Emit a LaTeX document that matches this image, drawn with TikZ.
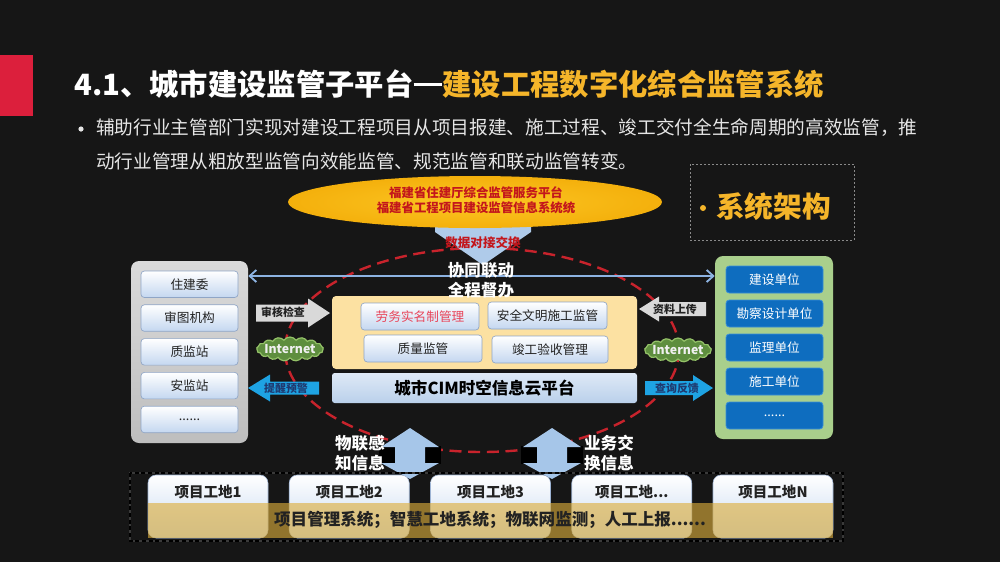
\documentclass[tikz,border=0pt]{standalone}
\usepackage{fontspec}
\setmainfont{Noto Sans CJK SC}
\usetikzlibrary{shapes.geometric,shapes.symbols,arrows.meta}
\definecolor{bgc}{HTML}{161616}
\definecolor{redbar}{HTML}{DC1F3C}
\definecolor{gold}{HTML}{F5B52A}
\definecolor{subc}{HTML}{E6E6E6}
\definecolor{elltxt}{HTML}{C3161C}
\definecolor{ellin}{HTML}{FCC623}
\definecolor{ellout}{HTML}{F4B00C}
\definecolor{dashred}{HTML}{C8232C}
\definecolor{hlc}{HTML}{8DB3E2}
\definecolor{lpa}{HTML}{DADADA}
\definecolor{lpb}{HTML}{BEBEBE}
\definecolor{lboxb}{HTML}{C4D7F0}
\definecolor{lboxd}{HTML}{8FA5C6}
\definecolor{txtdark}{HTML}{222222}
\definecolor{rpc}{HTML}{A9CF8C}
\definecolor{rboxc}{HTML}{0E6DBF}
\definecolor{rboxd}{HTML}{3A8ED6}
\definecolor{orangec}{HTML}{FCE1A2}
\definecolor{pinkred}{HTML}{E8455A}
\definecolor{cima}{HTML}{DEE9F6}
\definecolor{cimb}{HTML}{BAD0EB}
\definecolor{grayarr}{HTML}{D9D9D9}
\definecolor{bluearr}{HTML}{1EA3E3}
\definecolor{bluetxt}{HTML}{1F3A70}
\definecolor{cloudc}{HTML}{5E8E3E}
\definecolor{cloudd}{HTML}{94C268}
\definecolor{downarr}{HTML}{AFCBEA}
\definecolor{udarr}{HTML}{A6C6E9}
\definecolor{siteb}{HTML}{C6D8F0}
\definecolor{sited}{HTML}{9DB3D3}
\definecolor{bandc}{HTML}{DDAE3C}
\definecolor{dotc}{HTML}{8A8A8A}
\definecolor{rimc}{HTML}{3A3A3A}
\newcommand\fs[1]{\fontsize{#1}{#1}\selectfont}
\newcommand\mybox[7]{\node[#1, minimum width={(#5-#3)*0.75pt}, minimum height={(#6-#4)*0.75pt}] (#2) at ({(#3+#5)/2},{(#4+#6)/2}) {#7};}
% block arrow: fill, tail x, tip x, y centre, body half, head half, head length (signed)
\newcommand\blockarrow[7]{\fill[#1] ({#2},{#4-(#5)}) -- ({#3-(#7)},{#4-(#5)}) -- ({#3-(#7)},{#4-(#6)}) -- ({#3},{#4}) -- ({#3-(#7)},{#4+(#6)}) -- ({#3-(#7)},{#4+(#5)}) -- ({#2},{#4+(#5)}) -- cycle;}
\newcommand\udarrow[1]{%
  \fill[black] ({#1-31},446) rectangle ({#1+31},464);
  \fill[udarr] ({#1},428) -- ({#1+29},447) -- ({#1+15},447) -- ({#1+15},463) -- ({#1+29},463) -- ({#1},479) -- ({#1-29},463) -- ({#1-15},463) -- ({#1-15},447) -- ({#1-29},447) -- cycle;}
\newcommand\sixdots{......}
\newcommand\sitedots{项目工地...}
\newcommand\longdash{\rule[0.33em]{0.98em}{0.09em}}
\begin{document}
\begin{tikzpicture}[x=0.75pt,y=-0.75pt,
  lbox/.style={draw=lboxd,line width=0.5pt,rounded corners=2.5pt,top color=white,bottom color=lboxb,text=txtdark,font=\fs{9.5},inner sep=0pt},
  rbox/.style={draw=rboxd,line width=0.6pt,rounded corners=2.5pt,fill=rboxc,text=white,font=\fs{9.5},inner sep=0pt},
  sitebox/.style={rounded corners=6pt,top color=white,bottom color=siteb,draw=sited,line width=0.4pt,inner sep=0pt},
  sitetxt/.style={text=txtdark,font=\bfseries\fs{10.9},inner sep=0pt},
  wlabel/.style={text=white,font=\bfseries\fs{12.4},inner sep=0pt},
  alabel/.style={font=\bfseries\fs{8.2},inner sep=0pt},
  netcloud/.style={cloud,cloud puffs=17,cloud puff arc=110,cloud ignores aspect,fill=cloudc,draw=cloudd,line width=0.9pt,minimum width=50pt,minimum height=18pt,inner sep=0pt},
  nettxt/.style={text=white!94!black,font=\bfseries\fs{9.2},inner sep=0pt},
  hl/.style={draw=hlc,line width=1.4pt,>={Straight Barb[length=5pt,width=9pt]},<->}
]
\fill[bgc] (0,0) rectangle (1000,562);
\useasboundingbox (0,0) rectangle (1000,562);
% red bar and title
\fill[redbar] (0,55) rectangle (33,116);
\node[anchor=west,inner sep=0pt,text=white,font=\bfseries\fs{22}] (title) at (74,84) {4.1、城市建设监管子平台\longdash\textcolor{gold}{建设工程数字化综合监管系统}};
\fill[subc] (81,129) circle [radius=2.6];
\node[anchor=west,inner sep=0pt,text=subc,font=\fs{14}] (sub1) at (96,128) {辅助行业主管部门实现对建设工程项目从项目报建、施工过程、竣工交付全生命周期的高效监管，推};
\node[anchor=west,inner sep=0pt,text=subc,font=\fs{14}] (sub2) at (96,161) {动行业管理从粗放型监管向效能监管、规范监管和联动监管转变。};
% system architecture tag
\draw[dotc,line width=0.5pt,dash pattern=on 1.5pt off 1.5pt] (690,164) rectangle (854,240);
\fill[gold] (703,208) circle [radius=3];
\node[anchor=west,inner sep=0pt,text=gold,font=\bfseries\fs{21.5}] (arch) at (716,207) {系统架构};
% red dashed ellipse
\draw[dashred,line width=1.8pt,dash pattern=on 9pt off 5pt] (482,350) ellipse [x radius=197, y radius=102];
% top platform
\fill[downarr] (435,220) -- (531,220) -- (531,232) -- (483,265) -- (435,232) -- cycle;
\node[ellipse,minimum width=374*0.75pt,minimum height=52*0.75pt,inner sep=0pt,inner color=ellin,outer color=ellout] (plat) at (475,202) {};
\node[text=elltxt,font=\bfseries\fs{9.3},align=center,inner sep=0pt] (plattxt) at (476,200) {福建省住建厅综合监管服务平台\\[1.5pt]福建省工程项目建设监管信息系统统};
\node[text=elltxt,font=\bfseries\fs{9.4},inner sep=0pt] (swap) at (483,243) {数据对接交换};
% left panel
\mybox{rounded corners=6pt,top color=lpa,bottom color=lpb,inner sep=0pt}{lpanel}{131}{261}{248}{443}{}
\foreach \t [count=\i] in {住建委,审图机构,质监站,安监站,\sixdots}{
  \pgfmathsetmacro\ya{271+(\i-1)*33.8}
  \pgfmathsetmacro\yb{\ya+26.5}
  \mybox{lbox}{l\i}{141}{\ya}{238}{\yb}{\t}
}
% right panel
\mybox{rounded corners=6pt,fill=rpc,inner sep=0pt}{rpanel}{715}{256}{833}{439}{}
\foreach \t [count=\i] in {建设单位,勘察设计单位,监理单位,施工单位,\sixdots}{
  \pgfmathsetmacro\ya{266+(\i-1)*34}
  \pgfmathsetmacro\yb{\ya+27}
  \mybox{rbox}{r\i}{726}{\ya}{823}{\yb}{\t}
}
% centre block
\mybox{rounded corners=3pt,fill=orangec,inner sep=0pt}{cbox}{332}{296}{637}{369}{}
\mybox{lbox,text=pinkred}{c1}{361}{303}{479}{330}{劳务实名制管理}
\mybox{lbox}{c2}{488}{302}{607}{329}{安全文明施工监管}
\mybox{lbox}{c3}{364}{335}{482}{362}{质量监管}
\mybox{lbox}{c4}{492}{336}{608}{363}{竣工验收管理}
\mybox{rounded corners=2pt,top color=cima,bottom color=cimb,text=black,font=\bfseries\fs{12.4},inner sep=0pt}{cim}{332}{373}{637}{403}{城市CIM时空信息云平台}
% horizontal coordination line
\draw[hl] (lpanel.east |- 0,276) -- (rpanel.west |- 0,276);
\node[wlabel] (co1) at (481,270) {协同联动};
\node[wlabel] (co2) at (481,290) {全程督办};
% block arrows left
\blockarrow{grayarr}{256}{330}{313}{8.5}{14.5}{22}
\node[alabel,text=txtdark] (chk) at (283,312) {审核检查};
\blockarrow{bluearr}{319}{248}{388}{6.5}{13.5}{-22}
\node[alabel,text=bluetxt] (warn) at (286,388) {提醒预警};
% block arrows right
\blockarrow{grayarr}{706}{639}{309}{7}{12.5}{-20}
\node[alabel,text=txtdark] (upl) at (675,309) {资料上传};
\blockarrow{bluearr}{645}{713}{388}{7}{13}{20}
\node[alabel,text=bluetxt] (qry) at (677,388) {查询反馈};
% internet clouds
\node[netcloud] (net1) at (290,349) {};
\node[nettxt] (net1t) at (net1) {Internet};
\node[netcloud] (net2) at (678,350) {};
\node[nettxt] (net2t) at (net2) {Internet};
% bottom double arrows
\udarrow{410}
\udarrow{552}
\node[wlabel] (iot1) at (360,443) {物联感};
\node[wlabel] (iot2) at (360,463) {知信息};
\node[wlabel] (biz1) at (609,443) {业务交};
\node[wlabel] (biz2) at (609,463) {换信息};
% bottom project sites
\draw[rimc,line width=1.1pt] (130,473) rectangle (843,541);
\draw[black,line width=1.1pt,dash pattern=on 3pt off 2pt] (130,473) rectangle (843,541);
\foreach \t [count=\i] in {项目工地1,项目工地2,项目工地3,\sitedots,项目工地N}{
  \pgfmathsetmacro\xa{148+(\i-1)*141.25}
  \pgfmathsetmacro\xb{\xa+120}
  \pgfmathsetmacro\xc{\xa+60}
  \mybox{sitebox}{s\i}{\xa}{475}{\xb}{538}{}
  \node[sitetxt] (st\i) at (\xc,492) {\t};
}
\fill[bandc,opacity=0.62] (148,503) rectangle (833,538);
\node[text=txtdark,font=\bfseries\fs{12.4},inner sep=0pt] (band) at (490,520) {项目管理系统；智慧工地系统；物联网监测；人工上报\sixdots};
\end{tikzpicture}
\end{document}
